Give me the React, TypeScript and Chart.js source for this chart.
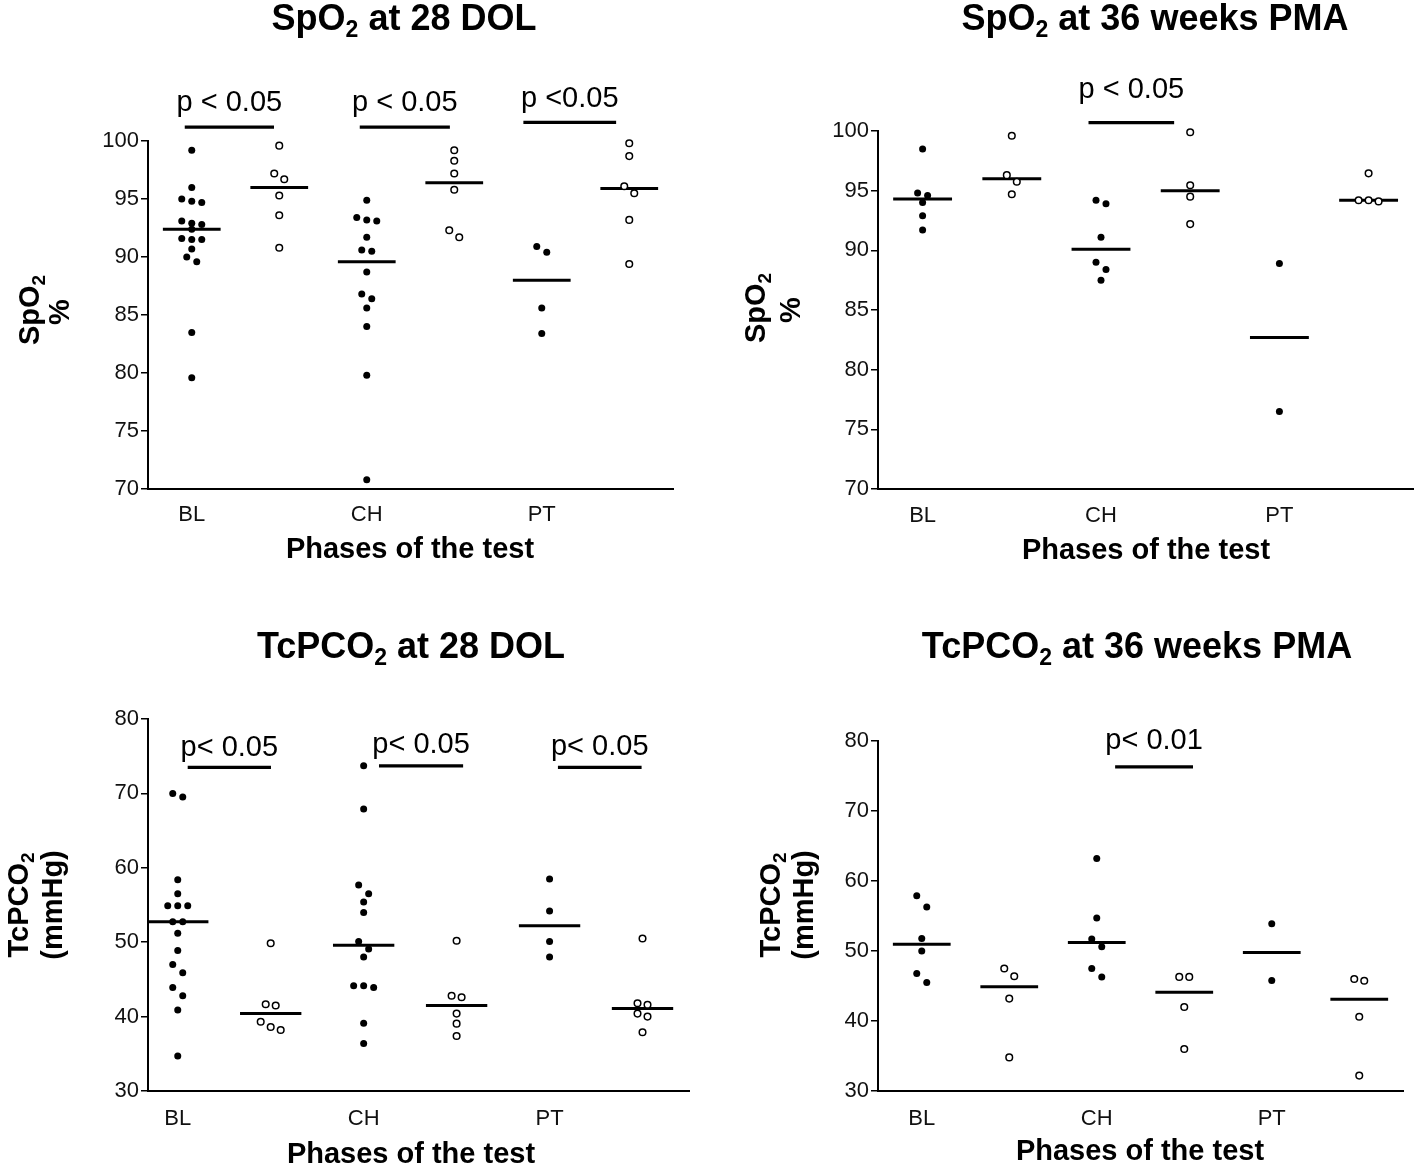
import React, { useEffect, useRef } from "react";
import { Chart, registerables } from "chart.js";
Chart.register(...registerables);

const FONT = '"Liberation Sans", Arial, Helvetica, sans-serif';

const phaseLabels = ["BL", "CH", "PT"];
const phasePositions = [1, 3, 5];

// ---- SpO2 at 28 DOL (filled = first group of each phase, open = second)
const spo2Dol28FilledBL = [99.2, 96.0, 95.0, 94.7, 94.8, 92.9, 92.8, 93.1, 92.4, 91.5, 91.6, 91.5, 90.7, 89.6, 90.0, 83.5, 79.6];
const spo2Dol28OpenBL = [99.6, 97.2, 96.7, 95.3, 93.6, 90.8];
const spo2Dol28FilledCH = [94.9, 93.4, 93.1, 93.2, 91.7, 90.5, 90.6, 88.7, 86.8, 86.4, 85.6, 84.0, 79.8, 70.8];
const spo2Dol28OpenCH = [99.2, 98.3, 97.2, 95.8, 91.7, 92.3];
const spo2Dol28FilledPT = [90.4, 90.9, 85.6, 83.4];
const spo2Dol28OpenPT = [99.8, 98.7, 96.1, 95.5, 93.2, 89.4];
const spo2Dol28Medians = [92.4, 96.0, 89.6, 96.4, 88.0, 95.9];
const spo2Dol28SigLabels = ["p < 0.05", "p < 0.05", "p <0.05"];
const spo2Dol28SigFrom = [0.92, 2.92, 4.79];
const spo2Dol28SigTo = [1.94, 3.95, 5.85];
const spo2Dol28SigBar = [101.2, 101.2, 101.6];
const spo2Dol28SigText = [103.5, 103.5, 103.85];

// ---- SpO2 at 36 weeks PMA
const spo2Pma36FilledBL = [98.5, 94.8, 94.6, 94.0, 92.9, 91.7];
const spo2Pma36OpenBL = [99.6, 96.3, 95.75, 94.7];
const spo2Pma36FilledCH = [94.2, 93.9, 91.1, 89.0, 88.4, 87.5];
const spo2Pma36OpenCH = [99.9, 95.45, 94.5, 92.2];
const spo2Pma36FilledPT = [88.9, 76.5];
const spo2Pma36OpenPT = [96.45, 94.2, 94.1, 94.2];
const spo2Pma36Medians = [94.3, 96.0, 90.1, 95.0, 82.7, 94.2];
const spo2Pma36SigLabels = ["p < 0.05"];
const spo2Pma36SigFrom = [2.86];
const spo2Pma36SigTo = [3.82];
const spo2Pma36SigBar = [100.7];
const spo2Pma36SigText = [103.6];

// ---- TcPCO2 at 28 DOL
const tcpco2Dol28FilledBL = [69.5, 70.0, 58.4, 56.5, 54.9, 54.9, 54.9, 52.75, 52.75, 51.2, 48.9, 47.0, 45.9, 43.9, 42.8, 40.9, 34.7];
const tcpco2Dol28OpenBL = [49.85, 41.65, 41.5, 39.3, 38.2, 38.6];
const tcpco2Dol28FilledCH = [73.7, 67.9, 57.7, 56.5, 55.4, 54.0, 50.1, 49.1, 48.0, 44.15, 43.9, 44.15, 39.1, 36.4];
const tcpco2Dol28OpenCH = [50.2, 42.8, 42.6, 40.4, 39.05, 37.4];
const tcpco2Dol28FilledPT = [58.5, 54.2, 50.1, 48.0];
const tcpco2Dol28OpenPT = [50.5, 41.8, 41.6, 40.4, 40.0, 37.9];
const tcpco2Dol28Medians = [52.75, 40.4, 49.6, 41.5, 52.2, 41.1];
const tcpco2Dol28SigLabels = ["p< 0.05", "p< 0.05", "p< 0.05"];
const tcpco2Dol28SigFrom = [1.107, 3.165, 5.09];
const tcpco2Dol28SigTo = [2.003, 4.07, 5.99];
const tcpco2Dol28SigBar = [73.5, 73.7, 73.5];
const tcpco2Dol28SigText = [76.4, 76.9, 76.6];

// ---- TcPCO2 at 36 weeks PMA
const tcpco2Pma36FilledBL = [57.9, 56.3, 51.8, 50.0, 46.8, 45.5];
const tcpco2Pma36OpenBL = [47.5, 46.4, 43.2, 34.8];
const tcpco2Pma36FilledCH = [63.2, 54.7, 51.7, 50.6, 47.5, 46.3];
const tcpco2Pma36OpenCH = [46.3, 46.3, 42.0, 36.0];
const tcpco2Pma36FilledPT = [53.9, 45.8];
const tcpco2Pma36OpenPT = [46.0, 45.75, 40.6, 32.2];
const tcpco2Pma36Medians = [50.95, 44.9, 51.2, 44.1, 49.8, 43.1];
const tcpco2Pma36SigLabels = ["p< 0.01"];
const tcpco2Pma36SigFrom = [3.21];
const tcpco2Pma36SigTo = [4.1];
const tcpco2Pma36SigBar = [76.3];
const tcpco2Pma36SigText = [80.4];

type Panel = {
  title: string;
  yTitle: string[];
  groups: number[][];
  medians: number[];
  sigLabels: string[];
  sigFrom: number[];
  sigTo: number[];
  sigBar: number[];
  sigText: number[];
  yMin: number; yMax: number; yStep: number;
  xMin: number; xMax: number;
  area: { left: number; right: number; top: number; bottom: number };
  pos: { left: number; top: number };
  titleXY: [number, number];
  xTitleXY: [number, number];
  yTitleXY: [number, number][];
  binPx: number;
  xTickPad: number;
};

const CW = 709;
const CH = 584;

const panels: Panel[] = [
  {
    title: "SpO{2} at 28 DOL",
    yTitle: ["SpO{2}", "%"],
    groups: [spo2Dol28FilledBL, spo2Dol28OpenBL, spo2Dol28FilledCH, spo2Dol28OpenCH, spo2Dol28FilledPT, spo2Dol28OpenPT],
    medians: spo2Dol28Medians,
    sigLabels: spo2Dol28SigLabels, sigFrom: spo2Dol28SigFrom, sigTo: spo2Dol28SigTo, sigBar: spo2Dol28SigBar, sigText: spo2Dol28SigText,
    yMin: 70, yMax: 100, yStep: 5, xMin: 0.5, xMax: 6.5,
    area: { left: 148, right: 673, top: 141, bottom: 489 },
    pos: { left: 0, top: 0 },
    titleXY: [404, 17], xTitleXY: [410, 548], yTitleXY: [[29, 310], [59, 312]],
    binPx: 7.5, xTickPad: 13,
  },
  {
    title: "SpO{2} at 36 weeks PMA",
    yTitle: ["SpO{2}", "%"],
    groups: [spo2Pma36FilledBL, spo2Pma36OpenBL, spo2Pma36FilledCH, spo2Pma36OpenCH, spo2Pma36FilledPT, spo2Pma36OpenPT],
    medians: spo2Pma36Medians,
    sigLabels: spo2Pma36SigLabels, sigFrom: spo2Pma36SigFrom, sigTo: spo2Pma36SigTo, sigBar: spo2Pma36SigBar, sigText: spo2Pma36SigText,
    yMin: 70, yMax: 100, yStep: 5, xMin: 0.5, xMax: 6.5,
    area: { left: 169, right: 705, top: 131, bottom: 489 },
    pos: { left: 709, top: 0 },
    titleXY: [446, 17], xTitleXY: [437, 549], yTitleXY: [[46, 308], [81, 310]],
    binPx: 7.5, xTickPad: 14,
  },
  {
    title: "TcPCO{2} at 28 DOL",
    yTitle: ["TcPCO{2}", "(mmHg)"],
    groups: [tcpco2Dol28FilledBL, tcpco2Dol28OpenBL, tcpco2Dol28FilledCH, tcpco2Dol28OpenCH, tcpco2Dol28FilledPT, tcpco2Dol28OpenPT],
    medians: tcpco2Dol28Medians,
    sigLabels: tcpco2Dol28SigLabels, sigFrom: tcpco2Dol28SigFrom, sigTo: tcpco2Dol28SigTo, sigBar: tcpco2Dol28SigBar, sigText: tcpco2Dol28SigText,
    yMin: 30, yMax: 80, yStep: 10, xMin: 0.68, xMax: 6.5,
    area: { left: 148, right: 689, top: 135, bottom: 507 },
    pos: { left: 0, top: 584 },
    titleXY: [411, 61], xTitleXY: [411, 569], yTitleXY: [[18, 321], [52, 321]],
    binPx: 9, xTickPad: 15,
  },
  {
    title: "TcPCO{2} at 36 weeks PMA",
    yTitle: ["TcPCO{2}", "(mmHg)"],
    groups: [tcpco2Pma36FilledBL, tcpco2Pma36OpenBL, tcpco2Pma36FilledCH, tcpco2Pma36OpenCH, tcpco2Pma36FilledPT, tcpco2Pma36OpenPT],
    medians: tcpco2Pma36Medians,
    sigLabels: tcpco2Pma36SigLabels, sigFrom: tcpco2Pma36SigFrom, sigTo: tcpco2Pma36SigTo, sigBar: tcpco2Pma36SigBar, sigText: tcpco2Pma36SigText,
    yMin: 30, yMax: 80, yStep: 10, xMin: 0.5, xMax: 6.5,
    area: { left: 169, right: 694, top: 157, bottom: 507 },
    pos: { left: 709, top: 584 },
    titleXY: [428, 61], xTitleXY: [431, 566], yTitleXY: [[61, 321], [94, 321]],
    binPx: 12, xTickPad: 15,
  },
];

// beeswarm: values close together are spread horizontally around the group centre
function swarm(values: number[], center: number, bin: number, step: number) {
  const idx = values.map((_, i) => i).sort((a, b) => values[b] - values[a]);
  const pts: { x: number; y: number }[] = new Array(values.length);
  let i = 0;
  while (i < idx.length) {
    const start = values[idx[i]];
    let j = i;
    while (j < idx.length && start - values[idx[j]] < bin) j++;
    const n = j - i;
    for (let k = 0; k < n; k++) {
      pts[idx[i + k]] = { x: center + (k - (n - 1) / 2) * step, y: values[idx[i + k]] };
    }
    i = j;
  }
  return pts;
}

function drawRich(ctx: CanvasRenderingContext2D, text: string, x: number, y: number, size: number, bold: boolean) {
  const segs = text.split(/\{([^}]*)\}/).map((t, i) => ({ t, sub: i % 2 === 1 })).filter((s) => s.t.length > 0);
  const fontFor = (sub: boolean) => `${bold ? "bold " : ""}${sub ? Math.round(size * 0.64) : size}px ${FONT}`;
  let total = 0;
  const widths = segs.map((s) => {
    ctx.font = fontFor(s.sub);
    const w = ctx.measureText(s.t).width;
    total += w;
    return w;
  });
  let cx = x - total / 2;
  const base = y + size * 0.36;
  ctx.textAlign = "left";
  ctx.textBaseline = "alphabetic";
  segs.forEach((s, i) => {
    ctx.font = fontFor(s.sub);
    ctx.fillText(s.t, cx, s.sub ? base + size * 0.2 : base);
    cx += widths[i];
  });
}

function PanelChart({ p }: { p: Panel }) {
  const ref = useRef<HTMLCanvasElement | null>(null);
  useEffect(() => {
    if (!ref.current) return;
    const YW = 60;
    const XH = 50;
    const a = p.area;
    const xPerPx = (p.xMax - p.xMin) / (a.right - a.left);
    const yPerPx = (p.yMax - p.yMin) / (a.bottom - a.top);
    const step = 10 * xPerPx;
    const bin = p.binPx * yPerPx;
    const hw = 0.33;
    const datasets: any[] = [];
    p.groups.forEach((vals, g) => {
      const filled = g % 2 === 0;
      datasets.push({
        type: "scatter",
        data: swarm(vals, g + 1, bin, step),
        pointRadius: filled ? 3.5 : 3.3,
        pointHoverRadius: filled ? 3.5 : 3.3,
        pointBackgroundColor: filled ? "#000" : "#fff",
        pointBorderColor: "#000",
        pointBorderWidth: filled ? 0 : 1.5,
        showLine: false,
        clip: false,
        order: 0,
      });
      datasets.push({
        type: "line",
        data: [
          { x: g + 1 - hw, y: p.medians[g] },
          { x: g + 1 + hw, y: p.medians[g] },
        ],
        borderColor: "#000",
        borderWidth: 3,
        pointRadius: 0,
        borderCapStyle: "butt",
        order: 1,
      });
    });
    p.sigFrom.forEach((f, i) => {
      datasets.push({
        type: "line",
        data: [
          { x: f, y: p.sigBar[i] },
          { x: p.sigTo[i], y: p.sigBar[i] },
        ],
        borderColor: "#000",
        borderWidth: 3.2,
        pointRadius: 0,
        borderCapStyle: "butt",
        clip: false,
        order: 1,
      });
    });

    const textPlugin = {
      id: "panelText",
      afterDraw(chart: any) {
        const ctx = chart.ctx as CanvasRenderingContext2D;
        ctx.save();
        ctx.fillStyle = "#000";
        drawRich(ctx, p.title, p.titleXY[0], p.titleXY[1], 36, true);
        drawRich(ctx, "Phases of the test", p.xTitleXY[0], p.xTitleXY[1], 29, true);
        p.yTitle.forEach((t, i) => {
          ctx.save();
          ctx.translate(p.yTitleXY[i][0], p.yTitleXY[i][1]);
          ctx.rotate(-Math.PI / 2);
          drawRich(ctx, t, 0, 0, 29, true);
          ctx.restore();
        });
        const xs = chart.scales.x;
        const ys = chart.scales.y;
        p.sigLabels.forEach((lbl, i) => {
          const cx = xs.getPixelForValue((p.sigFrom[i] + p.sigTo[i]) / 2);
          const cy = ys.getPixelForValue(p.sigText[i]);
          drawRich(ctx, lbl, cx, cy, 29, false);
        });
        ctx.restore();
      },
    };

    const chart = new Chart(ref.current, {
      type: "scatter",
      data: { datasets },
      plugins: [textPlugin],
      options: {
        animation: false,
        responsive: false,
        maintainAspectRatio: false,
        events: [],
        layout: {
          padding: { left: a.left - YW, right: CW - a.right, top: a.top, bottom: CH - a.bottom - XH },
        },
        plugins: { legend: { display: false }, tooltip: { enabled: false }, title: { display: false } },
        scales: {
          x: {
            type: "linear",
            min: p.xMin,
            max: p.xMax,
            afterFit: (s: any) => { s.height = XH; },
            afterBuildTicks: (s: any) => { s.ticks = phasePositions.map((v) => ({ value: v })); },
            ticks: {
              callback: (v: any) => { const k = phasePositions.indexOf(Number(v)); return k >= 0 ? phaseLabels[k] : ""; },
              font: { family: FONT, size: 22 },
              color: "#111",
              padding: p.xTickPad,
              maxRotation: 0,
              autoSkip: false,
            },
            grid: { display: false, drawTicks: false },
            border: { display: true, color: "#000", width: 2 },
          },
          y: {
            type: "linear",
            min: p.yMin,
            max: p.yMax,
            afterFit: (s: any) => { s.width = YW; },
            ticks: { stepSize: p.yStep, font: { family: FONT, size: 22 }, color: "#111", padding: 2 },
            grid: { display: true, drawOnChartArea: false, drawTicks: true, tickLength: 7, color: "#000", lineWidth: 1.5 },
            border: { display: true, color: "#000", width: 2 },
          },
        },
      } as any,
    });
    return () => chart.destroy();
  }, [p]);
  return (
    <canvas
      ref={ref}
      width={CW}
      height={CH}
      style={{ position: "absolute", left: p.pos.left, top: p.pos.top, width: CW, height: CH }}
    />
  );
}

export default function App() {
  return (
    <div style={{ position: "absolute", left: 0, top: 0, width: 1418, height: 1168, background: "#fff", overflow: "hidden" }}>
      {panels.map((p, i) => (
        <PanelChart key={i} p={p} />
      ))}
    </div>
  );
}
